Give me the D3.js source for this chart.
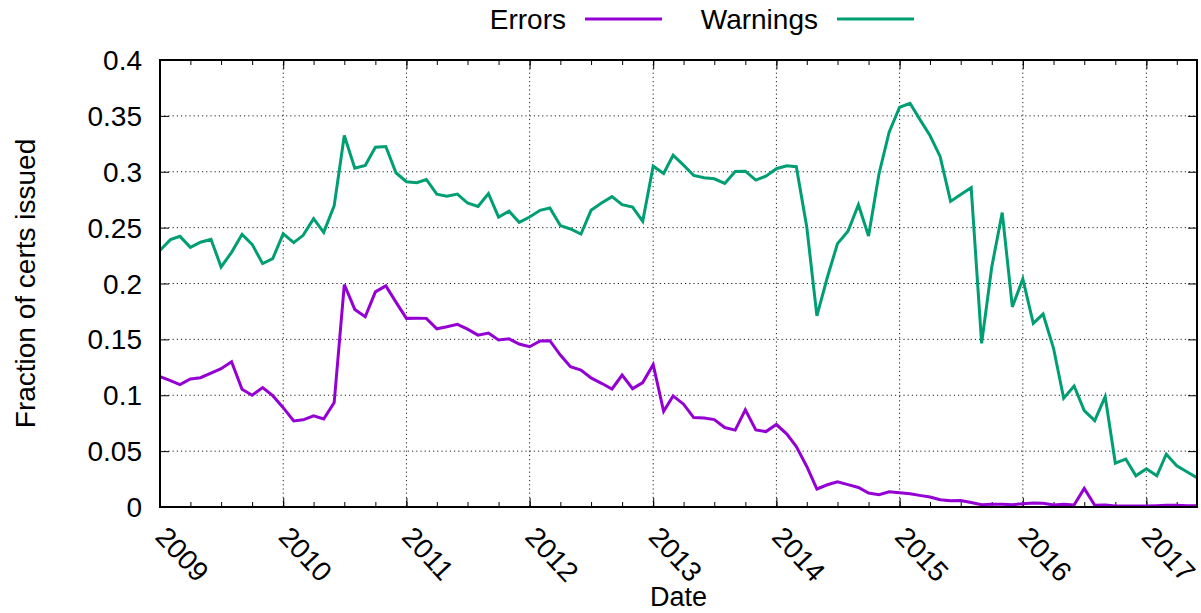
<!DOCTYPE html>
<html>
  <head>
    <meta charset="utf-8">
    <script src="https://cdn.jsdelivr.net/npm/d3@7"></script>
    <style>
      body { margin: 0; background: #fff; }
      text { font-family: "Liberation Sans", Arial, Helvetica, sans-serif; fill: #000; }
    </style>
  </head>
  <body>
    <script type="text/javascript">

    // Monthly fractions, Jan 2009 up to Jun 2017
    var errors = [
      0.1166, 0.1130, 0.1095, 0.1146, 0.1157, 0.1199, 0.1238, 0.1300, 0.1054, 0.1000, 0.1068, 0.0996,
      0.0889, 0.0770, 0.0780, 0.0815, 0.0788, 0.0934, 0.1991, 0.1768, 0.1702, 0.1925, 0.1979, 0.1833,
      0.1688, 0.1690, 0.1688, 0.1595, 0.1613, 0.1634, 0.1592, 0.1538, 0.1556, 0.1494, 0.1505, 0.1458,
      0.1434, 0.1485, 0.1488, 0.1360, 0.1255, 0.1226, 0.1155, 0.1107, 0.1056, 0.1181, 0.1059, 0.1113,
      0.1274, 0.0857, 0.0994, 0.0920, 0.0800, 0.0797, 0.0782, 0.0711, 0.0688, 0.0869, 0.0690, 0.0675,
      0.0738, 0.0652, 0.0541, 0.0363, 0.0161, 0.0199, 0.0226, 0.0200, 0.0175, 0.0125, 0.0110, 0.0137,
      0.0128, 0.0119, 0.0104, 0.0089, 0.0065, 0.0056, 0.0059, 0.0041, 0.0021, 0.0025, 0.0025, 0.0021,
      0.0029, 0.0036, 0.0033, 0.0018, 0.0024, 0.0018, 0.0166, 0.0015, 0.0018, 0.0009, 0.0009, 0.0010,
      0.0010, 0.0012, 0.0015, 0.0015, 0.0012, 0.0012
    ];
    var warnings = [
      0.2297, 0.2393, 0.2422, 0.2324, 0.2369, 0.2396, 0.2148, 0.2279, 0.2440, 0.2350, 0.2178, 0.2223,
      0.2446, 0.2366, 0.2431, 0.2580, 0.2458, 0.2696, 0.3324, 0.3032, 0.3056, 0.3220, 0.3226, 0.2991,
      0.2911, 0.2902, 0.2931, 0.2800, 0.2780, 0.2800, 0.2720, 0.2690, 0.2804, 0.2595, 0.2648, 0.2547,
      0.2595, 0.2655, 0.2675, 0.2518, 0.2488, 0.2443, 0.2655, 0.2720, 0.2777, 0.2705, 0.2684, 0.2556,
      0.3050, 0.2985, 0.3148, 0.3059, 0.2967, 0.2946, 0.2937, 0.2896, 0.3003, 0.3005, 0.2925, 0.2961,
      0.3027, 0.3054, 0.3045, 0.2505, 0.1711, 0.2056, 0.2357, 0.2468, 0.2705, 0.2425, 0.2982, 0.3354,
      0.3577, 0.3613, 0.3473, 0.3324, 0.3137, 0.2735, 0.2797, 0.2857, 0.1464, 0.2148, 0.2634, 0.1791,
      0.2041, 0.1643, 0.1726, 0.1420, 0.0973, 0.1083, 0.0863, 0.0773, 0.0988, 0.0393, 0.0429, 0.0279,
      0.0342, 0.0279, 0.0473, 0.0369, 0.0315, 0.0259
    ];
    var seriesNames = ["Errors", "Warnings"];
    var seriesColors = ["#9400d3", "#009e73"];
    var yTicks = [0, 0.05, 0.1, 0.15, 0.2, 0.25, 0.3, 0.35, 0.4];
    var yearTicks = [2009, 2010, 2011, 2012, 2013, 2014, 2015, 2016, 2017];

    // one date per month, starting January 2009
    var months = d3.timeMonth.range(new Date(2009, 0, 1), new Date(2009, errors.length, 1));

    var width = 1201, height = 613;
    var margin = {top: 60, right: 4, bottom: 106, left: 160};
    var w = width - margin.left - margin.right;
    var h = height - margin.top - margin.bottom;

    var svg = d3.select("body").append("svg")
      .attr("width", width)
      .attr("height", height);

    var g = svg.append("g")
      .attr("transform", "translate(" + margin.left + "," + margin.top + ")");

    var x = d3.scaleTime()
      .domain([new Date(2009, 0, 1), new Date(2017, 4, 31)])
      .range([0, w]);
    var y = d3.scaleLinear()
      .domain([0, 0.4])
      .range([h, 0]);

    var yearDates = yearTicks.map(function(yr) { return new Date(yr, 0, 1); });
    var quarterDates = d3.timeMonth.every(3).range(x.domain()[0], x.domain()[1]);

    // dotted grid
    g.append("g").selectAll("line")
      .data(yTicks.slice(1, -1))
      .enter().append("line")
        .attr("x1", 0).attr("x2", w)
        .attr("y1", function(d) { return y(d); })
        .attr("y2", function(d) { return y(d); })
        .attr("stroke", "#222")
        .attr("stroke-dasharray", "1.2,3");
    g.append("g").selectAll("line")
      .data(yearDates.slice(1))
      .enter().append("line")
        .attr("x1", function(d) { return x(d); })
        .attr("x2", function(d) { return x(d); })
        .attr("y1", 0).attr("y2", h)
        .attr("stroke", "#222")
        .attr("stroke-dasharray", "1.2,3");

    // axes, ticks pointing inward like gnuplot
    var tickStyle = function(sel) {
      sel.select(".domain").remove();
      sel.selectAll("line").attr("stroke", "#000").attr("stroke-width", 1);
      sel.selectAll("text").remove();
    };
    g.append("g").attr("transform", "translate(0," + h + ")")
      .call(d3.axisTop(x).tickValues(quarterDates).tickSize(5)).call(tickStyle);
    g.append("g").attr("transform", "translate(0," + h + ")")
      .call(d3.axisTop(x).tickValues(yearDates).tickSize(9)).call(tickStyle);
    g.append("g")
      .call(d3.axisBottom(x).tickValues(quarterDates).tickSize(5)).call(tickStyle);
    g.append("g")
      .call(d3.axisBottom(x).tickValues(yearDates).tickSize(9)).call(tickStyle);
    g.append("g")
      .call(d3.axisRight(y).tickValues(yTicks).tickSize(9)).call(tickStyle);
    g.append("g").attr("transform", "translate(" + w + ",0)")
      .call(d3.axisLeft(y).tickValues(yTicks).tickSize(9)).call(tickStyle);

    // y tick labels
    g.append("g").selectAll("text")
      .data(yTicks)
      .enter().append("text")
        .attr("x", -18)
        .attr("y", function(d) { return y(d); })
        .attr("dy", "0.36em")
        .attr("text-anchor", "end")
        .style("font-size", "28px")
        .text(function(d) { return String(+d.toFixed(2)); });

    // rotated x tick labels
    g.append("g").selectAll("text")
      .data(yearDates)
      .enter().append("text")
        .attr("transform", function(d) {
          return "translate(" + (x(d) - 6) + "," + (h + 31) + ")rotate(47)";
        })
        .attr("text-anchor", "start")
        .style("font-size", "28px")
        .text(function(d) { return d.getFullYear(); });

    // the two lines, clipped to the plot area
    g.append("clipPath").attr("id", "clip")
      .append("rect").attr("width", w).attr("height", h);

    var line = d3.line()
      .x(function(d, i) { return x(months[i]); })
      .y(function(d) { return y(d); });

    [errors, warnings].forEach(function(series, k) {
      g.append("path")
        .datum(series)
        .attr("clip-path", "url(#clip)")
        .attr("fill", "none")
        .attr("stroke", seriesColors[k])
        .attr("stroke-width", 3)
        .attr("stroke-linejoin", "miter")
        .attr("d", line);
    });

    // border
    g.append("rect")
      .attr("width", w).attr("height", h)
      .attr("fill", "none")
      .attr("stroke", "#000")
      .attr("stroke-width", 2);

    // axis titles
    svg.append("text")
      .attr("transform", "translate(35," + (margin.top + h / 2) + ")rotate(-90)")
      .attr("text-anchor", "middle")
      .style("font-size", "28px")
      .text("Fraction of certs issued");
    svg.append("text")
      .attr("x", margin.left + w / 2)
      .attr("y", 606)
      .attr("text-anchor", "middle")
      .style("font-size", "27px")
      .text("Date");

    // legend across the top
    var legendEnds = [566, 818];
    seriesNames.forEach(function(name, k) {
      svg.append("text")
        .attr("x", legendEnds[k])
        .attr("y", 29)
        .attr("text-anchor", "end")
        .style("font-size", "28px")
        .text(name);
      svg.append("line")
        .attr("x1", legendEnds[k] + 19)
        .attr("x2", legendEnds[k] + 96)
        .attr("y1", 19).attr("y2", 19)
        .attr("stroke", seriesColors[k])
        .attr("stroke-width", 3);
    });
    </script>
  </body>
</html>
